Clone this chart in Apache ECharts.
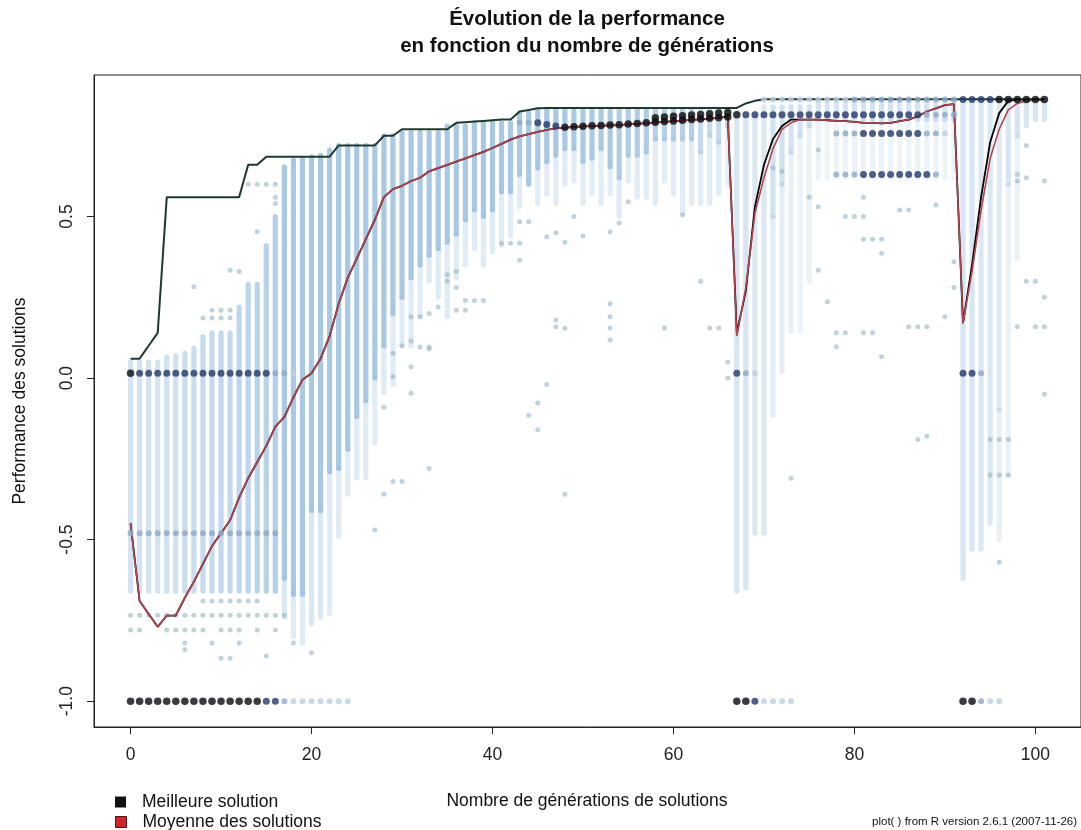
<!DOCTYPE html>
<html>
<head>
<meta charset="utf-8">
<script src="https://cdn.jsdelivr.net/npm/echarts@6/dist/echarts.min.js"></script>
<style>
html,body{margin:0;padding:0;background:#fff;}
#chart{width:1081px;height:830px;}
</style>
</head>
<body>
<div id="chart"></div>
<script>
// ---------------- DATA ----------------
var xTicks = [0, 20, 40, 60, 80, 100];
var yTicks = [-1, -0.5, 0, 0.5];

// best solution found so far (staircase), generations 0..101
var bestEver = [
  0.06,0.06,0.10,0.14,0.56,0.56,0.56,0.56,0.56,0.56,
  0.56,0.56,0.56,0.66,0.66,0.685,0.685,0.685,0.685,0.685,
  0.685,0.685,0.685,0.72,0.72,0.72,0.72,0.72,0.75,0.75,
  0.77,0.77,0.77,0.77,0.77,0.77,0.79,0.792,0.794,0.796,
  0.798,0.80,0.80,0.825,0.83,0.835,0.836,0.836,0.836,0.836,
  0.836,0.836,0.836,0.836,0.836,0.836,0.836,0.836,0.836,0.836,
  0.836,0.836,0.836,0.836,0.836,0.836,0.836,0.836,0.85,0.858,
  0.863,0.863,0.863,0.863,0.863,0.863,0.863,0.863,0.863,0.863,
  0.863,0.863,0.863,0.863,0.863,0.863,0.863,0.863,0.863,0.863,
  0.863,0.863,0.863,0.863,0.863,0.863,0.863,0.863,0.863,0.863,
  0.863,0.863
];

// mean of the population (red)
var meanFitness = [
  -0.45,-0.69,-0.73,-0.77,-0.735,-0.735,-0.68,-0.63,-0.575,-0.52,
  -0.48,-0.44,-0.37,-0.31,-0.26,-0.21,-0.15,-0.12,-0.06,-0.005,
  0.015,0.06,0.13,0.23,0.31,0.37,0.43,0.49,0.56,0.585,
  0.595,0.61,0.62,0.64,0.65,0.66,0.67,0.68,0.69,0.70,
  0.712,0.725,0.738,0.748,0.755,0.762,0.768,0.773,0.775,0.777,
  0.779,0.78,0.781,0.782,0.783,0.785,0.787,0.789,0.791,0.793,
  0.795,0.797,0.799,0.801,0.803,0.805,0.807,0.13,0.28,0.51,
  0.62,0.71,0.77,0.79,0.80,0.80,0.80,0.798,0.796,0.795,
  0.793,0.79,0.79,0.788,0.79,0.795,0.80,0.81,0.825,0.835,
  0.845,0.848,0.17,0.33,0.52,0.68,0.77,0.83,0.85,0.858,
  0.86,0.862
];

// black curve drawn under the mean
var medianFitness = [
  -0.45,-0.69,-0.73,-0.77,-0.735,-0.735,-0.68,-0.63,-0.575,-0.52,
  -0.48,-0.44,-0.37,-0.31,-0.26,-0.21,-0.15,-0.12,-0.06,-0.005,
  0.015,0.06,0.13,0.23,0.31,0.37,0.43,0.49,0.56,0.585,
  0.595,0.61,0.62,0.64,0.65,0.66,0.67,0.68,0.69,0.70,
  0.712,0.725,0.738,0.748,0.755,0.762,0.768,0.773,0.775,0.777,
  0.779,0.78,0.781,0.782,0.783,0.785,0.787,0.789,0.791,0.793,
  0.795,0.797,0.799,0.801,0.803,0.805,0.81,0.14,0.27,0.53,
  0.66,0.74,0.78,0.80,0.80,0.80,0.80,0.798,0.796,0.795,
  0.793,0.79,0.79,0.788,0.79,0.795,0.80,0.81,0.825,0.835,
  0.845,0.848,0.17,0.35,0.56,0.73,0.82,0.858,0.862,0.862,
  0.862,0.862
];

// light-blue stacks of solutions: [generation, top, bottom, density]
var cloudSegments = [
  [0,0.05,-0.66,0.42],[1,0.05,-0.66,0.42],[2,0.05,-0.66,0.42],[3,0.05,-0.66,0.42],
  [4,0.065,-0.66,0.45],[5,0.07,-0.66,0.45],[6,0.077,-0.66,0.5],[7,0.093,-0.66,0.5],
  [8,0.128,-0.66,0.55],[9,0.14,-0.66,0.55],[10,0.14,-0.66,0.58],[11,0.14,-0.66,0.58],
  [12,0.22,-0.66,0.6],[13,0.29,-0.66,0.62],[14,0.29,-0.66,0.65],[15,0.41,-0.66,0.68],
  [16,0.50,-0.66,0.72],
  [17,0.654,-0.62,0.82],[17,-0.62,-0.74,0.35],
  [18,0.675,-0.67,0.82],[18,-0.67,-0.80,0.3],
  [19,0.68,-0.67,0.82],[19,-0.67,-0.82,0.3],
  [20,0.685,-0.41,0.82],[20,-0.41,-0.76,0.35],
  [21,0.69,-0.41,0.82],[21,-0.41,-0.74,0.35],
  [22,0.706,-0.29,0.82],[22,-0.29,-0.73,0.3],
  [23,0.72,-0.28,0.82],[23,-0.28,-0.49,0.3],
  [24,0.72,-0.22,0.82],[24,-0.22,-0.36,0.3],
  [25,0.72,-0.12,0.82],[25,-0.12,-0.31,0.3],
  [26,0.72,-0.07,0.82],[26,-0.07,-0.31,0.3],
  [27,0.72,0.0,0.82],[27,0.0,-0.2,0.28],
  [28,0.75,0.10,0.82],[28,0.10,-0.045,0.3],
  [29,0.75,0.20,0.82],[29,0.20,-0.02,0.3],
  [30,0.76,0.25,0.82],[30,0.25,0.10,0.3],
  [31,0.76,0.31,0.82],[31,0.31,0.10,0.3],
  [32,0.76,0.35,0.82],[32,0.35,0.19,0.3],
  [33,0.76,0.38,0.82],[33,0.38,0.30,0.3],
  [34,0.76,0.40,0.82],[34,0.40,0.25,0.3],
  [35,0.78,0.42,0.82],[35,0.42,0.19,0.3],
  [36,0.78,0.445,0.82],[36,0.445,0.31,0.3],
  [37,0.78,0.49,0.82],[37,0.49,0.35,0.3],
  [38,0.79,0.52,0.82],[38,0.52,0.40,0.3],
  [39,0.79,0.50,0.82],[39,0.50,0.35,0.3],
  [40,0.79,0.52,0.82],[40,0.52,0.39,0.3],
  [41,0.79,0.577,0.82],[41,0.577,0.41,0.28],
  [42,0.79,0.577,0.82],[42,0.577,0.44,0.28],
  [43,0.82,0.63,0.82],[43,0.63,0.53,0.28],
  [44,0.82,0.60,0.82],
  [45,0.83,0.65,0.82],[45,0.65,0.54,0.28],
  [46,0.83,0.67,0.82],[46,0.67,0.57,0.28],
  [47,0.83,0.69,0.82],[47,0.69,0.54,0.28],
  [48,0.83,0.71,0.8],[48,0.71,0.60,0.28],
  [49,0.83,0.71,0.8],[49,0.71,0.61,0.28],
  [50,0.83,0.67,0.8],[50,0.67,0.54,0.28],
  [51,0.83,0.68,0.8],[51,0.68,0.57,0.28],
  [52,0.83,0.71,0.8],[52,0.71,0.54,0.28],
  [53,0.83,0.654,0.8],[53,0.654,0.57,0.28],
  [54,0.83,0.62,0.75],[54,0.62,0.50,0.28],
  [55,0.83,0.69,0.75],[55,0.69,0.61,0.28],
  [56,0.83,0.69,0.75],[56,0.69,0.56,0.28],
  [57,0.83,0.70,0.75],[57,0.70,0.56,0.28],
  [58,0.83,0.74,0.7],[58,0.74,0.54,0.28],
  [59,0.83,0.74,0.7],[59,0.74,0.61,0.28],
  [60,0.83,0.74,0.7],[60,0.74,0.57,0.28],
  [61,0.83,0.74,0.7],[61,0.74,0.51,0.28],
  [62,0.83,0.74,0.7],[62,0.74,0.54,0.28],
  [63,0.83,0.70,0.55],[63,0.70,0.54,0.28],
  [64,0.83,0.75,0.55],[64,0.75,0.54,0.28],
  [65,0.83,0.73,0.55],[65,0.73,0.57,0.28],
  [66,0.83,0.78,0.55],[66,0.78,0.60,0.22],
  [67,0.82,-0.66,0.38],[68,0.82,-0.65,0.38],[69,0.82,-0.48,0.34],[70,0.84,-0.48,0.34],
  [71,0.84,0.50,0.45],[71,0.50,-0.115,0.25],
  [72,0.84,0.60,0.45],[72,0.60,0.02,0.25],
  [73,0.84,0.70,0.42],[73,0.70,0.145,0.22],
  [74,0.84,0.75,0.42],[74,0.75,0.145,0.2],
  [75,0.84,0.78,0.42],[75,0.78,0.30,0.2],
  [76,0.86,0.80,0.4],[76,0.80,0.62,0.18],[77,0.86,0.80,0.4],[77,0.80,0.62,0.18],
  [78,0.86,0.80,0.4],[78,0.80,0.62,0.18],[79,0.86,0.80,0.4],[79,0.80,0.62,0.18],
  [80,0.86,0.80,0.4],[80,0.80,0.62,0.18],[81,0.86,0.80,0.4],[81,0.80,0.62,0.18],
  [82,0.86,0.80,0.4],[82,0.80,0.62,0.18],[83,0.86,0.80,0.4],[83,0.80,0.62,0.18],
  [84,0.86,0.80,0.4],[84,0.80,0.62,0.18],[85,0.86,0.80,0.4],[85,0.80,0.62,0.18],
  [86,0.86,0.80,0.4],[86,0.80,0.62,0.18],[87,0.86,0.80,0.4],[87,0.80,0.62,0.18],
  [88,0.86,0.80,0.4],[88,0.80,0.62,0.18],[89,0.86,0.80,0.4],[89,0.80,0.62,0.18],
  [90,0.86,0.80,0.4],[90,0.80,0.62,0.18],[91,0.86,0.80,0.4],[91,0.80,0.62,0.18],
  [92,0.85,-0.62,0.38],[93,0.85,-0.53,0.38],[94,0.85,-0.53,0.34],[95,0.85,-0.45,0.34],
  [96,0.85,-0.10,0.32],[96,-0.10,-0.50,0.22],
  [97,0.85,0.60,0.38],[97,0.60,-0.30,0.2],
  [98,0.86,0.75,0.4],[98,0.75,0.37,0.2],
  [99,0.86,0.78,0.38],[100,0.86,0.80,0.38],[101,0.86,0.80,0.38]
];

// isolated solutions: [generation, performance]
var lightPoints = [
  [0,-0.734],[1,-0.734],[2,-0.734],[3,-0.734],[4,-0.734],[5,-0.734],[6,-0.734],[7,-0.734],[8,-0.734],
  [9,-0.734],[10,-0.734],[11,-0.734],[12,-0.734],[13,-0.734],[14,-0.734],[15,-0.734],[16,-0.734],[17,-0.734],
  [0,-0.78],[1,-0.78],[4,-0.78],[5,-0.78],[6,-0.78],[7,-0.78],[8,-0.78],[10,-0.78],[11,-0.78],[12,-0.78],[14,-0.78],[16,-0.78],
  [8,-0.69],[9,-0.69],[10,-0.69],[11,-0.69],[12,-0.69],[13,-0.69],[14,-0.69],
  [6,-0.82],[6,-0.84],[9,-0.82],[12,-0.82],[18,-0.82],[10,-0.867],[11,-0.867],[15,-0.86],[20,-0.85],
  [7,0.283],[8,0.186],[9,0.21],[9,0.186],[10,0.21],[10,0.186],[11,0.21],[11,0.186],[11,0.334],[12,0.33],
  [13,0.6],[14,0.6],[15,0.6],[16,0.6],[16,0.56],[16,0.54],[14,0.453],
  [27,-0.47],[28,-0.36],[29,-0.32],[30,-0.32],[33,-0.28],[28,-0.09],[29,0.077],[29,0.004],
  [30,0.10],[31,0.115],[32,0.096],[33,0.096],[31,0.19],[32,0.19],[33,0.09],[31,0.035],[31,-0.047],
  [33,0.20],[34,0.22],[35,0.30],[36,0.28],[37,0.24],[38,0.24],[39,0.24],[36,0.21],[37,0.21],[35,0.32],[36,0.33],
  [41,0.417],[42,0.417],[43,0.417],[43,0.365],[43,0.484],[44,0.484],[46,0.437],[47,0.45],[48,0.42],
  [49,0.5],[50,0.44],[53,0.453],[54,0.48],[55,0.546],[61,0.505],
  [53,0.23],[53,0.19],[53,0.155],[53,0.118],[47,0.18],[47,0.159],[48,0.154],[59,0.155],[63,0.30],[64,0.155],[65,0.155],
  [46,-0.02],[45,-0.077],[44,-0.115],[45,-0.16],[48,-0.36],[66,0.05],[66,0.0],
  [71,0.65],[72,0.64],[76,0.706],[75,0.56],[76,0.53],[76,0.334],[79,0.5],[80,0.5],[81,0.5],[81,0.43],
  [82,0.43],[83,0.43],[83,0.386],[81,0.56],[85,0.52],[86,0.52],[89,0.536],[77,0.236],[78,0.14],[79,0.14],
  [81,0.14],[82,0.14],[86,0.159],[87,0.159],[88,0.159],[78,0.097],[83,0.066],[87,-0.19],[88,-0.18],
  [90,0.19],[91,0.36],[91,0.28],[73,-0.31],
  [98,0.61],[101,0.61],[99,0.30],[100,0.30],[98,0.159],[100,0.159],[101,0.159],[101,0.25],[101,-0.05],
  [98,0.63],[99,0.72],[99,0.62],[95,-0.19],[96,-0.19],[97,-0.19],[95,-0.30],[96,-0.30],[97,-0.30],[96,-0.57]
];

// overlapping (stacked) solutions: [generation, performance, density level 0..3]
var densePoints = [
  [0,-1,3],[1,-1,3],[2,-1,3],[3,-1,3],[4,-1,3],[5,-1,3],[6,-1,3],[7,-1,3],[8,-1,3],[9,-1,3],
  [10,-1,3],[11,-1,3],[12,-1,3],[13,-1,3],[14,-1,3],[15,-1,2],[16,-1,2],[17,-1,1],
  [18,-1,0],[19,-1,0],[20,-1,0],[21,-1,0],[22,-1,0],[23,-1,0],[24,-1,0],
  [67,-1,3],[68,-1,3],[69,-1,2],[70,-1,0],[71,-1,0],[72,-1,0],[73,-1,0],
  [92,-1,3],[93,-1,3],[94,-1,1],[95,-1,0],[96,-1,0],
  [0,0.015,3],[1,0.015,2],[2,0.015,2],[3,0.015,2],[4,0.015,2],[5,0.015,2],[6,0.015,2],[7,0.015,2],
  [8,0.015,2],[9,0.015,2],[10,0.015,2],[11,0.015,2],[12,0.015,2],[13,0.015,2],[14,0.015,2],[15,0.015,2],
  [16,0.015,1],[17,0.015,1],[18,0.015,0],
  [67,0.015,2],[68,0.015,1],[69,0.015,0],[92,0.015,2],[93,0.015,2],[94,0.015,1],
  [0,-0.48,1],[1,-0.48,1],[2,-0.48,1],[3,-0.48,1],[4,-0.48,1],[5,-0.48,1],[6,-0.48,1],[7,-0.48,1],
  [8,-0.48,1],[9,-0.48,1],[10,-0.48,1],[11,-0.48,1],[12,-0.48,1],[13,-0.48,1],[14,-0.48,1],[15,-0.48,1],[16,-0.48,1],
  [43,0.79,1],[44,0.79,1],[45,0.79,2],[46,0.785,2],[47,0.78,2],
  [48,0.776,3],[49,0.778,3],[50,0.779,3],[51,0.781,3],[52,0.782,3],[53,0.783,3],[54,0.784,3],[55,0.786,3],
  [56,0.788,3],[57,0.79,3],[58,0.792,3],[59,0.794,3],[60,0.796,3],[61,0.798,3],[62,0.80,3],[63,0.802,3],
  [64,0.804,3],[65,0.806,3],[66,0.808,3],
  [58,0.806,3],[59,0.808,3],[60,0.81,3],[61,0.812,3],[62,0.814,3],[63,0.816,3],[64,0.818,3],[65,0.82,3],[66,0.822,3],
  [67,0.815,3],[68,0.815,2],[69,0.815,2],[70,0.815,2],[71,0.815,2],[72,0.815,2],[73,0.815,2],[74,0.815,2],
  [75,0.815,2],[76,0.815,2],[77,0.815,2],[78,0.815,2],[79,0.815,2],[80,0.815,2],[81,0.815,2],[82,0.815,2],
  [83,0.815,2],[84,0.815,2],[85,0.815,2],[86,0.815,2],[87,0.815,2],[88,0.815,1],[89,0.815,1],[90,0.815,1],[91,0.815,1],
  [78,0.757,1],[79,0.757,1],[80,0.757,1],[81,0.757,2],[82,0.757,2],[83,0.757,2],[84,0.757,2],[85,0.757,2],
  [86,0.757,2],[87,0.757,2],[88,0.757,1],[89,0.757,1],[90,0.757,0],
  [78,0.63,1],[79,0.63,1],[80,0.63,1],[81,0.63,2],[82,0.63,2],[83,0.63,2],[84,0.63,2],[85,0.63,2],
  [86,0.63,2],[87,0.63,2],[88,0.63,2],[89,0.63,1],
  [70,0.862,0],[71,0.862,0],[72,0.862,0],[73,0.862,0],[74,0.862,0],[75,0.862,0],[76,0.862,0],[77,0.862,0],
  [78,0.862,0],[79,0.862,0],[80,0.862,1],[81,0.862,1],[82,0.862,1],[83,0.862,1],[84,0.862,1],[85,0.862,1],
  [86,0.862,1],[87,0.862,1],[88,0.862,1],[89,0.862,1],[90,0.862,1],[91,0.862,1],
  [92,0.862,2],[93,0.862,2],[94,0.862,2],[95,0.862,2],
  [96,0.862,3],[97,0.862,3],[98,0.862,3],[99,0.862,3],[100,0.862,3],[101,0.862,3]
];

var titleLines = ['Évolution de la performance', 'en fonction du nombre de générations'];
var xName = 'Nombre de générations de solutions';
var yName = 'Performance des solutions';
var legendNames = ['Meilleure solution', 'Moyenne des solutions'];
var footnote = 'plot( ) from R version 2.6.1 (2007-11-26)';

// ---------------- CHART ----------------
function withGen(arr){ return arr.map(function(v, i){ return [i, v]; }); }
var levelColors = ['#bccfe0', '#8ea9c8', '#24386a', '#0a0a0e'];
var FONT = '"Liberation Sans", Arial, Helvetica, sans-serif';
var legendText = {fontSize: 17.5, color: '#111', fontFamily: FONT, padding: [0, 0, 0, 11]};

var chart = echarts.init(document.getElementById('chart'), null, {renderer: 'canvas'});
chart.setOption({
  animation: false,
  backgroundColor: '#fff',
  grid: {left: 94, right: 0, top: 75, bottom: 103, show: true, borderColor: '#222', borderWidth: 1, backgroundColor: 'transparent'},
  xAxis: {
    type: 'value', min: -4.04, max: 105.04,
    splitLine: {show: false},
    axisLine: {show: true, onZero: false, lineStyle: {color: '#222', width: 1}},
    axisTick: {show: true, inside: false, length: 7, lineStyle: {color: '#222'}, customValues: xTicks},
    axisLabel: {customValues: xTicks, margin: 19, fontSize: 17.5, color: '#222', fontFamily: FONT}
  },
  yAxis: {
    type: 'value', min: -1.08, max: 0.938,
    splitLine: {show: false},
    axisLine: {show: true, onZero: false, lineStyle: {color: '#222', width: 1}},
    axisTick: {show: true, inside: false, length: 7, lineStyle: {color: '#222'}, customValues: yTicks},
    axisLabel: {customValues: yTicks, margin: 18, rotate: 90, fontSize: 17.5, color: '#222', fontFamily: FONT,
      formatter: function(v){ return (+v).toFixed(1); }}
  },
  legend: [
    {
      left: 110, top: 788, itemWidth: 11, itemHeight: 11, icon: 'rect', selectedMode: false,
      textStyle: legendText,
      data: [{name: legendNames[0], itemStyle: {color: '#111', borderWidth: 0}}]
    },
    {
      left: 110, top: 808, itemWidth: 11, itemHeight: 11, icon: 'rect', selectedMode: false,
      textStyle: legendText,
      data: [{name: legendNames[1], itemStyle: {color: '#c8282c', borderColor: '#5a1010', borderWidth: 1}}]
    }
  ],
  graphic: [
    {type: 'text', x: 587, y: 19, style: {text: titleLines[0], font: 'bold 20.5px ' + FONT, fill: '#111', textAlign: 'center', textVerticalAlign: 'middle'}},
    {type: 'text', x: 587, y: 46, style: {text: titleLines[1], font: 'bold 20.5px ' + FONT, fill: '#111', textAlign: 'center', textVerticalAlign: 'middle'}},
    {type: 'text', x: 587, y: 801, style: {text: xName, font: '17.5px ' + FONT, fill: '#111', textAlign: 'center', textVerticalAlign: 'middle'}},
    {type: 'text', x: 20, y: 401, rotation: Math.PI / 2, style: {text: yName, font: '17.5px ' + FONT, fill: '#111', textAlign: 'center', textVerticalAlign: 'middle'}},
    {type: 'text', x: 1077, y: 822, style: {text: footnote, font: '11.5px ' + FONT, fill: '#111', textAlign: 'right', textVerticalAlign: 'middle'}}
  ],
  series: [
    {
      type: 'custom', name: 'cloud', silent: true, z: 1,
      data: cloudSegments,
      encode: {x: 0, y: [1, 2]},
      renderItem: function(params, api){
        var g = api.value(0), top = api.value(1), bot = api.value(2), a = api.value(3);
        var p1 = api.coord([g, top]), p2 = api.coord([g, bot]);
        return {type: 'rect', shape: {x: p1[0] - 2.6, y: p1[1] - 2.5, width: 5.2, height: p2[1] - p1[1] + 5, r: 2.5},
          style: {fill: 'rgba(150,188,222,' + a + ')'}};
      }
    },
    {
      type: 'scatter', name: 'isolated', silent: true, z: 2,
      data: lightPoints, symbol: 'circle', symbolSize: 5,
      itemStyle: {color: 'rgba(150,180,198,0.75)'}
    },
    {
      type: 'line', name: 'median', silent: true, z: 3,
      data: withGen(medianFitness), showSymbol: false, symbol: 'none',
      lineStyle: {color: '#000', width: 1.8}
    },
    {
      type: 'line', name: legendNames[1], silent: true, z: 4,
      data: withGen(meanFitness), showSymbol: false, symbol: 'none',
      itemStyle: {color: '#c8282c'},
      lineStyle: {color: '#b5444f', width: 1.6}
    },
    {
      type: 'line', name: legendNames[0], silent: true, z: 5,
      data: withGen(bestEver), showSymbol: false, symbol: 'none',
      itemStyle: {color: '#111'},
      lineStyle: {color: '#1f3a2c', width: 2}
    },
    {
      type: 'scatter', name: 'dense', silent: true, z: 6,
      data: densePoints, symbol: 'circle',
      symbolSize: function(v){ return v[2] >= 3 ? 7.5 : (v[2] === 2 ? 7 : 6); },
      itemStyle: {color: function(p){ return levelColors[p.value[2]]; }}
    }
  ]
});
</script>
</body>
</html>
